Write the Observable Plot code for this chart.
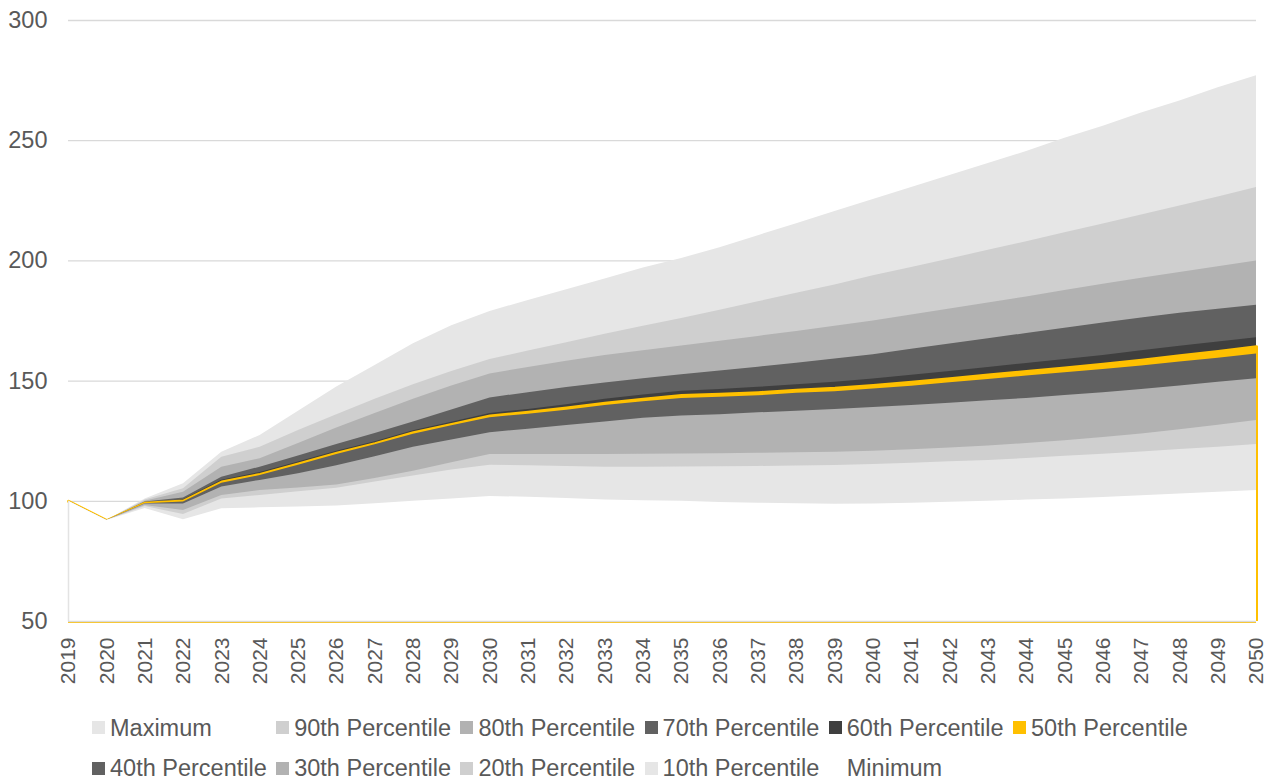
<!DOCTYPE html>
<html><head><meta charset="utf-8">
<script src="https://cdn.jsdelivr.net/npm/d3@7"></script>
<script src="https://cdn.jsdelivr.net/npm/@observablehq/plot@0.6"></script>
<style>
body{margin:0;background:#fff;width:1273px;height:780px;overflow:hidden;position:relative;font-family:"Liberation Sans",Arial,sans-serif;}
#chart{position:absolute;left:0;top:0;}
.leg{position:absolute;height:26px;line-height:26px;font-size:23.5px;color:#595959;white-space:nowrap;}
.sw{position:absolute;left:0;top:6.8px;width:13px;height:13px;}
.lt{position:absolute;left:18px;top:0;}
</style></head><body>
<div id="chart"></div>
<div id="legend"></div>
<script>
const years = d3.range(2019, 2051);
const yTicks = [50, 100, 150, 200, 250, 300];

const maximum = [100, 92, 101, 107.3, 120.4, 127.4, 137.5, 147.5, 156.5, 165.5, 173, 179, 183.5, 188, 192.5, 197, 201, 205.5, 210.5, 215.5, 220.5, 225.5, 230.5, 235.5, 240.5, 245.5, 251, 256, 261.5, 266.5, 272, 277];
const p90 = [100, 92, 100.5, 105.2, 118.3, 122.5, 129.5, 136, 142.5, 148.5, 154, 159, 162.5, 166, 169.5, 172.8, 176, 179.5, 183, 186.5, 190, 193.8, 197.3, 200.8, 204.4, 208, 211.7, 215.4, 219.1, 222.8, 226.6, 230.5];
const p80 = [100, 92, 100, 103.8, 114.2, 117.7, 124, 130.5, 136.5, 142.5, 148, 153, 155.7, 158.3, 160.6, 162.6, 164.6, 166.6, 168.6, 170.6, 172.8, 175, 177.5, 180, 182.5, 185, 187.7, 190.3, 192.8, 195.2, 197.6, 200];
const p70 = [100, 92, 99.7, 101.4, 110, 114.2, 118.8, 123.6, 128.2, 133, 138, 143, 145.2, 147.3, 149.2, 151, 152.6, 154.2, 155.8, 157.4, 159.2, 161, 163.2, 165.4, 167.6, 169.8, 172, 174.2, 176.3, 178.2, 179.9, 181.5];
const p60 = [100, 92, 99.4, 100.6, 108.8, 112, 116.3, 120.8, 124.8, 129.3, 132.9, 136.5, 138.2, 140.2, 142.4, 144.2, 145.8, 146.5, 147.4, 148.5, 149.5, 150.9, 152.4, 154, 155.7, 157.3, 159, 160.7, 162.6, 164.5, 166.3, 168];
const p50 = [100, 92, 99.2, 100.1, 108, 111.2, 115.5, 120, 124, 128.5, 132, 135.5, 137, 138.8, 140.8, 142.5, 144, 144.5, 145.2, 146.2, 147, 148.2, 149.5, 151, 152.5, 154, 155.5, 157, 158.7, 160.5, 162.3, 164.3];
const p40 = [100, 92, 99.0, 99.7, 107.5, 110.7, 115.0, 119.5, 123.5, 127.9, 131.4, 134.8, 136.2, 137.9, 139.8, 141.4, 142.8, 143.3, 143.9, 144.9, 145.6, 146.7, 147.9, 149.3, 150.7, 152.1, 153.5, 154.8, 156.3, 157.9, 159.5, 161.3];
const p30 = [100, 92, 98.9, 98.9, 105.9, 108.7, 111.5, 114.8, 118.5, 122.5, 125.5, 128.5, 130, 131.5, 133, 134.5, 135.5, 136, 136.8, 137.5, 138.2, 139, 139.8, 140.8, 141.8, 142.8, 144, 145.2, 146.5, 148, 149.5, 151];
const p20 = [100, 92, 98.3, 96.2, 102.4, 104.5, 105.5, 106.8, 109.5, 112.5, 116, 119.5, 119.5, 119.5, 119.5, 119.6, 119.7, 119.8, 120, 120.2, 120.4, 120.8, 121.4, 122.2, 123, 124, 125.2, 126.5, 128, 129.8, 131.6, 133.6];
const p10 = [100, 92, 97.8, 94.5, 101, 102.4, 104, 105.4, 108, 110.5, 113, 115, 114.8, 114.5, 114.2, 114.2, 114.3, 114.4, 114.5, 114.7, 114.9, 115.3, 115.8, 116.4, 117, 117.8, 118.7, 119.6, 120.5, 121.5, 122.5, 123.6];
const minimum = [100, 92, 97, 92.3, 96.9, 97.3, 97.6, 98, 99, 100, 101, 102, 101.7, 101.2, 100.5, 100.2, 100, 99.5, 99.2, 99, 98.8, 98.9, 99.2, 99.6, 100, 100.5, 101, 101.6, 102.3, 103, 103.8, 104.5];

const seriesNames = ["Maximum", "90th Percentile", "80th Percentile", "70th Percentile", "60th Percentile", "50th Percentile", "40th Percentile", "30th Percentile", "20th Percentile", "10th Percentile", "Minimum"];
const seriesValues = [maximum, p90, p80, p70, p60, p50, p40, p30, p20, p10, minimum];
const seriesColors = ["#e6e6e6", "#cfcfcf", "#b2b2b2", "#616161", "#3f3f3f", "#ffc000", "#616161", "#b2b2b2", "#cfcfcf", "#e6e6e6", "#ffffff"];
const medianName = "50th Percentile";
const medianColor = "#ffc000";

const base = yTicks[0];
const firstYear = years[0], lastYear = years[years.length - 1];
const marks = [Plot.gridY(yTicks.slice(1), {stroke: "#d9d9d9", strokeOpacity: 1, strokeWidth: 1.3})];
seriesNames.forEach((name, k) => {
  const rows = years.map((yr, i) => ({series: name, year: yr, value: seriesValues[k][i]}));
  marks.push(Plot.areaY(rows, {x: "year", y1: () => base, y2: "value", fill: seriesColors[k]}));
  if (name === medianName) {
    // outline of the median series (top, right edge, baseline) – lower parts get covered by the bands drawn after
    marks.push(Plot.lineY(rows, {x: "year", y: "value", stroke: medianColor, strokeWidth: 3}));
    marks.push(Plot.ruleX([lastYear], {y1: base, y2: p50[p50.length - 1], stroke: medianColor, strokeWidth: 3}));
    marks.push(Plot.ruleY([base], {x1: firstYear, x2: lastYear, stroke: medianColor, strokeWidth: 3}));
  }
});
marks.push(
  Plot.ruleX([firstYear], {y1: base, y2: minimum[0], stroke: "#e3e3e3", strokeWidth: 1.5}),
  Plot.ruleY([base], {stroke: "#d9d9d9", strokeWidth: 1.3}),
  Plot.axisY(yTicks, {tickSize: 0, tickPadding: 21, fontSize: 23.5, label: null, fill: "#595959"}),
  Plot.axisX(years, {tickSize: 0, tickPadding: 16, tickRotate: -90, fontSize: 21, label: null, fill: "#595959", tickFormat: d => String(d)})
);

const plot = Plot.plot({
  width: 1273,
  height: 705,
  marginLeft: 68,
  marginRight: 17,
  marginTop: 20,
  marginBottom: 84,
  style: {fontFamily: '"Liberation Sans", Arial, sans-serif', color: "#595959", background: "#fff"},
  x: {type: "linear", domain: [firstYear, lastYear]},
  y: {domain: [yTicks[0], yTicks[yTicks.length - 1]]},
  marks
});
document.getElementById("chart").appendChild(plot);

// legend
const legend = document.getElementById("legend");
const colStart = 92, colStep = 184.2;
const rowTops = [714.7, 755.3];
seriesNames.forEach((name, k) => {
  const row = k < 6 ? 0 : 1;
  const col = k < 6 ? k : k - 6;
  const item = document.createElement("div");
  item.className = "leg";
  item.style.left = (colStart + col * colStep) + "px";
  item.style.top = rowTops[row] + "px";
  const sw = document.createElement("span");
  sw.className = "sw";
  sw.style.background = name === "Minimum" ? "transparent" : seriesColors[k];
  const t = document.createElement("span");
  t.className = "lt";
  t.textContent = name;
  item.appendChild(sw);
  item.appendChild(t);
  legend.appendChild(item);
});
</script>
</body></html>
